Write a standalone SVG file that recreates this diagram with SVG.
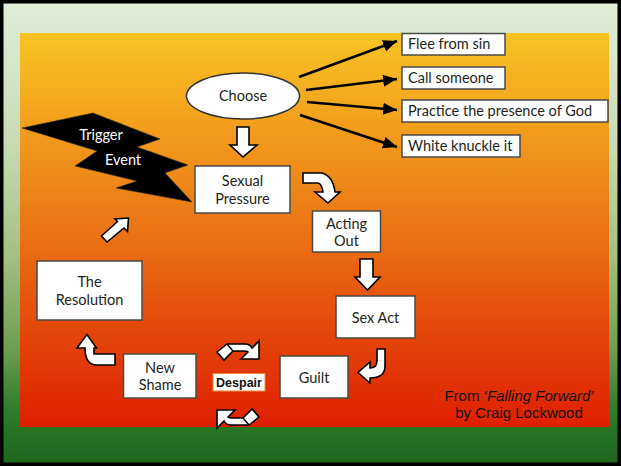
<svg xmlns="http://www.w3.org/2000/svg" width="621" height="466" viewBox="0 0 621 466">
<style>
.box{fill:#fff;stroke:#4a4a4a;stroke-width:1.5}
.t{font-family:Lato,"Open Sans",sans-serif;font-size:14.5px;fill:#231f20}
.tc{text-anchor:middle}
.w{fill:#fff}
.blk{fill:#fff;stroke:#000;stroke-width:1.6;stroke-linejoin:miter}
.ln{stroke:#000;stroke-width:2.6;fill:none}
.cap{font-family:"Liberation Sans",Arial,sans-serif;font-size:15px;fill:#111;text-anchor:middle}
</style>
<defs>
<linearGradient id="bg" x1="0" y1="0" x2="0" y2="1">
<stop offset="0" stop-color="#e1ecd8"/>
<stop offset="0.3" stop-color="#c9dbb5"/>
<stop offset="0.55" stop-color="#a3c07f"/>
<stop offset="0.75" stop-color="#6e9e52"/>
<stop offset="0.88" stop-color="#2f7d2a"/>
<stop offset="1" stop-color="#1c661c"/>
</linearGradient>
<linearGradient id="pn" x1="0" y1="0" x2="0" y2="1">
<stop offset="0" stop-color="#f8c424"/>
<stop offset="0.25" stop-color="#f29c1c"/>
<stop offset="0.5" stop-color="#eb7415"/>
<stop offset="0.75" stop-color="#e4480a"/>
<stop offset="1" stop-color="#df1f00"/>
</linearGradient>
<marker id="ah" markerUnits="userSpaceOnUse" markerWidth="16" markerHeight="14" refX="14" refY="6" orient="auto">
<path d="M0,0 L14,6 L0,12 Z" fill="#000"/>
</marker>
</defs>

<rect x="1.75" y="1.75" width="617.5" height="462.5" fill="url(#bg)" stroke="#000" stroke-width="3.5"/>
<rect x="20" y="33" width="589" height="394" fill="url(#pn)"/>

<g id="trigger-event">
<polygon points="22,128 93,113 160,139 137,147 188,165 165,173 192,202 116,188 137,181 75,166 97,151" fill="#000" stroke="#333" stroke-width="0.6"/>
<text x="101" y="140" class="t tc w">Trigger</text>
<text x="123" y="165" class="t tc w">Event</text>
</g>

<g id="choose">
<ellipse cx="243" cy="96" rx="56.5" ry="23" fill="#fff" stroke="#333" stroke-width="1.5"/>
<text x="243" y="101" class="t tc">Choose</text>
</g>

<g id="flee">
<rect x="402" y="33.5" width="103" height="21.5" class="box"/>
<text x="408" y="49" class="t">Flee from sin</text>
</g>
<g id="call">
<rect x="402" y="67" width="103" height="22" class="box"/>
<text x="408" y="83" class="t">Call someone</text>
</g>
<g id="practice">
<rect x="402" y="100" width="206" height="22" class="box"/>
<text x="408" y="116" class="t">Practice the presence of God</text>
</g>
<g id="white-knuckle">
<rect x="402" y="135" width="118" height="22" class="box"/>
<text x="408" y="151" class="t">White knuckle it</text>
</g>

<g id="sexual-pressure">
<rect x="195" y="166" width="95" height="47" class="box"/>
<text x="242.5" y="186" class="t tc">Sexual</text>
<text x="242.5" y="203.5" class="t tc">Pressure</text>
</g>
<g id="acting-out">
<rect x="312.5" y="211" width="68" height="41" class="box"/>
<text x="346.5" y="228.5" class="t tc">Acting</text>
<text x="346.5" y="246" class="t tc">Out</text>
</g>
<g id="sex-act">
<rect x="336" y="296" width="79" height="42" class="box"/>
<text x="375.5" y="323" class="t tc">Sex Act</text>
</g>
<g id="guilt">
<rect x="280" y="356" width="68" height="42" class="box"/>
<text x="314" y="382.5" class="t tc">Guilt</text>
</g>
<g id="despair">
<rect x="213" y="373.5" width="52" height="17.5" fill="#fff" stroke="#ef8a3a" stroke-width="1"/>
<text x="239" y="387" style="font-family:'Liberation Sans',Arial,sans-serif;font-weight:bold;font-size:12.5px;fill:#111;text-anchor:middle">Despair</text>
</g>
<g id="new-shame">
<rect x="123.5" y="354" width="72.5" height="44" class="box"/>
<text x="160" y="372.5" class="t tc">New</text>
<text x="160" y="390" class="t tc">Shame</text>
</g>
<g id="resolution">
<rect x="37" y="261" width="105" height="59" class="box"/>
<text x="89.5" y="287" class="t tc">The</text>
<text x="89.5" y="305" class="t tc">Resolution</text>
</g>

<g id="caption">
<text x="519" y="401" class="cap">From <tspan font-style="italic">‘Falling Forward’</tspan></text>
<text x="519" y="418" class="cap">by Craig Lockwood</text>
</g>

<g id="connectors">
<line x1="299" y1="77" x2="397" y2="41" class="ln" marker-end="url(#ah)"/>
<line x1="306" y1="90" x2="397" y2="79" class="ln" marker-end="url(#ah)"/>
<line x1="307" y1="102" x2="397" y2="110" class="ln" marker-end="url(#ah)"/>
<line x1="300" y1="115" x2="397" y2="147" class="ln" marker-end="url(#ah)"/>
<path class="blk" d="M237,127 H249 V145 H257 L243,157 L230,145 H237 Z"/>
<path class="blk" d="M303,173 H322 Q333,176 335,192 H340 L328,203 L315,192 H323 Q322,184 318,183 H303 Z"/>
<path class="blk" d="M360,259 H373 V277 H380 L367.5,290 L355,277 H360 Z"/>
<path class="blk" d="M377,349 H385 V366 Q385,378 370,378 V383 L358,372.5 L370,362 V368 Q377,368 377,361 Z"/>
<path class="blk" d="M217,352 L227,344 L245,344 Q250,344 252,348 L259,341 L259,359 L241,359 L248,352 Q247,351 244,351 L233,351 L224,360 Z"/>
<line x1="227" y1="344" x2="233" y2="351" stroke="#000" stroke-width="1.4"/>
<g transform="rotate(180 238 384.5)">
<path class="blk" d="M217,352 L227,344 L245,344 Q250,344 252,348 L259,341 L259,359 L241,359 L248,352 Q247,351 244,351 L233,351 L224,360 Z"/>
<line x1="227" y1="344" x2="233" y2="351" stroke="#000" stroke-width="1.4"/>
</g>
<path class="blk" d="M115,354 H94 V348 H96.5 L87,334.5 L77,348 H85 Q85,365 97,365 H115 Z"/>
<path class="blk" d="M101.5,236 L117.5,221.5 L115,219 L128.5,218 L127.5,231.5 L124,228 L107,242 Z"/>
</g>
</svg>
